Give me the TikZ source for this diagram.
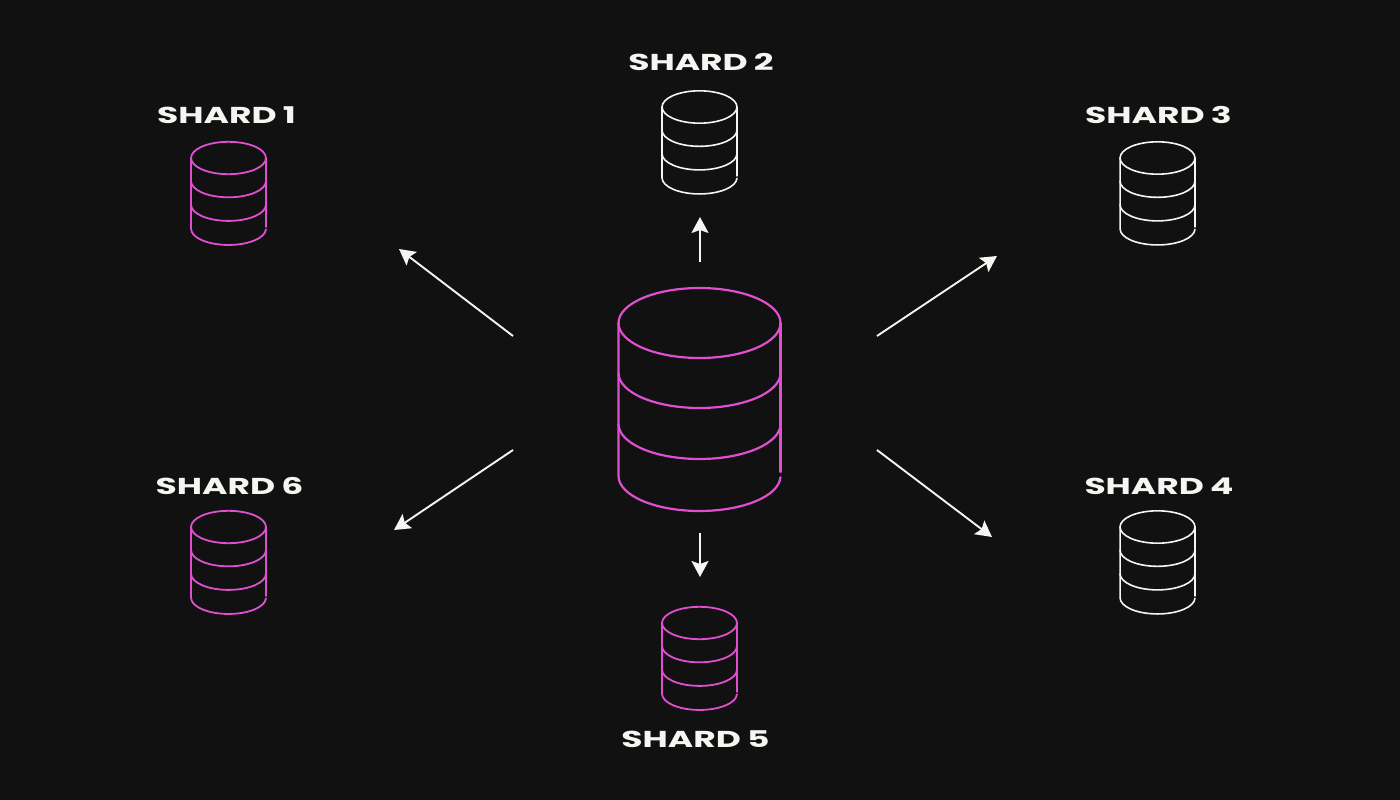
\documentclass[tikz,border=0pt]{standalone}
\usepackage{fontspec}
\setmainfont[FakeStretch=1.5,WordSpace=0.85]{Poppins Bold}
\usetikzlibrary{arrows.meta}
\definecolor{bgc}{HTML}{111111}
\definecolor{pinkc}{HTML}{DF4FD0}
\definecolor{inkc}{HTML}{F4F6F2}
\tikzset{
  x=1pt,y=-1pt,
  shardlabel/.style={text=inkc,font=\fontsize{23}{23}\selectfont,inner sep=0pt,anchor=center},
  flow/.style={draw=inkc,line width=1.9pt,-{Stealth[length=16pt,width=17pt,inset=3pt,fill=inkc]}},
  pics/dbicon/.style n args={3}{code={
    \begin{scope}[scale=#1,draw=#2,line width=#3,line cap=round]
      \draw (0,0) ellipse [x radius=81,y radius=-35];
      \draw (-81,0) -- (-81,153) arc [start angle=180,end angle=358,x radius=81,y radius=-35];
      \draw (81,0) -- (81,149);
      \draw (-81,50) arc [start angle=180,end angle=360,x radius=81,y radius=-35];
      \draw (-81,101) arc [start angle=180,end angle=360,x radius=81,y radius=-35];
    \end{scope}
  }}
}
\begin{document}
\begin{tikzpicture}
\path[use as bounding box,fill=bgc] (0,0) rectangle (1400,800);
\pic at (699.5,323) {dbicon={1}{pinkc}{2.2pt}};
\pic at (228.5,158) {dbicon={0.4625}{pinkc}{1.8pt}};
\pic at (699.5,107) {dbicon={0.4625}{inkc}{1.6pt}};
\pic at (1157.5,158) {dbicon={0.4625}{inkc}{1.6pt}};
\pic at (1157.5,527) {dbicon={0.4625}{inkc}{1.6pt}};
\pic at (699.5,623) {dbicon={0.4625}{pinkc}{1.8pt}};
\pic at (228.5,527) {dbicon={0.4625}{pinkc}{1.8pt}};
\node[shardlabel] (s1) at (226.5,115) {SHARD 1};
\node[shardlabel] (s2) at (701,62) {SHARD 2};
\node[shardlabel] (s3) at (1158.5,115) {SHARD 3};
\node[shardlabel] (s4) at (1159,486) {SHARD 4};
\node[shardlabel] (s5) at (695.5,739) {SHARD 5};
\node[shardlabel] (s6) at (229.5,486) {SHARD 6};
\coordinate (a1s) at (513,336); \coordinate (a1e) at (399,249);
\coordinate (a2s) at (700,262); \coordinate (a2e) at (700,217);
\coordinate (a3s) at (877,336); \coordinate (a3e) at (997,256);
\coordinate (a4s) at (877,450); \coordinate (a4e) at (992,537);
\coordinate (a5s) at (700,533); \coordinate (a5e) at (700,577);
\coordinate (a6s) at (513,450); \coordinate (a6e) at (394,530);
\foreach \n in {1,...,6} \draw[flow] (a\n s) -- (a\n e);
\end{tikzpicture}
\end{document}
